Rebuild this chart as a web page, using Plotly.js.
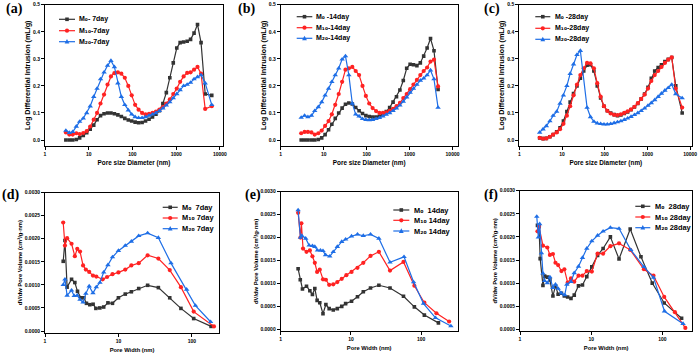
<!DOCTYPE html>
<html><head><meta charset="utf-8">
<script src="https://cdn.plot.ly/plotly-3.0.1.min.js"></script>
<style>html,body{margin:0;padding:0;background:#fff;}#chart{width:700px;height:355px;}</style>
</head><body><div id="chart"></div>
<script>
// ---------- MIP data (top row): pore size diameter (nm) vs log differential intrusion (mL/g)
var diamAC = [3.0, 3.6, 4.3, 5.2, 6.2, 7.5, 9.0, 10.8, 13.0, 15.5, 18.6, 22.4, 26.9, 32.2, 38.6, 46.4, 55.7, 66.8, 80.2, 96, 115, 138, 166, 199, 239, 287, 344, 413, 496, 595, 714, 857, 1030, 1230, 1480, 1780, 2130, 2560, 3070, 3700, 4600, 6500];
var diamB  = [3.0, 3.6, 4.3, 5.2, 6.2, 7.5, 9.0, 10.8, 13.0, 15.5, 18.6, 22.4, 26.9, 32.2, 38.6, 46.4, 55.7, 66.8, 80.2, 96, 115, 138, 166, 199, 239, 287, 344, 413, 496, 595, 714, 857, 1030, 1230, 1480, 1780, 2130, 2560, 3070, 3700, 4600];

var a_M0  = [0.000, 0.000, 0.000, 0.002, 0.008, 0.017, 0.027, 0.040, 0.055, 0.075, 0.090, 0.097, 0.100, 0.100, 0.097, 0.093, 0.087, 0.080, 0.074, 0.070, 0.066, 0.064, 0.065, 0.070, 0.077, 0.085, 0.095, 0.108, 0.135, 0.175, 0.230, 0.285, 0.340, 0.360, 0.362, 0.365, 0.372, 0.395, 0.427, 0.360, 0.170, 0.165];
var a_M10 = [0.028, 0.020, 0.020, 0.025, 0.022, 0.026, 0.033, 0.050, 0.075, 0.100, 0.135, 0.168, 0.205, 0.235, 0.247, 0.250, 0.245, 0.230, 0.200, 0.165, 0.130, 0.112, 0.100, 0.095, 0.097, 0.100, 0.105, 0.112, 0.122, 0.135, 0.150, 0.170, 0.190, 0.215, 0.235, 0.248, 0.250, 0.260, 0.270, 0.245, 0.115, 0.125];
var a_M20 = [0.035, 0.027, 0.030, 0.050, 0.068, 0.080, 0.100, 0.125, 0.160, 0.190, 0.225, 0.250, 0.275, 0.293, 0.270, 0.210, 0.160, 0.130, 0.110, 0.095, 0.085, 0.082, 0.082, 0.085, 0.090, 0.095, 0.100, 0.108, 0.117, 0.128, 0.140, 0.155, 0.170, 0.185, 0.200, 0.205, 0.212, 0.225, 0.233, 0.240, 0.210, 0.130];

var b_M0  = [0.000, 0.000, 0.000, 0.000, 0.000, 0.002, 0.008, 0.020, 0.038, 0.058, 0.080, 0.100, 0.118, 0.132, 0.137, 0.133, 0.120, 0.108, 0.098, 0.090, 0.087, 0.085, 0.085, 0.088, 0.095, 0.105, 0.120, 0.140, 0.160, 0.185, 0.220, 0.265, 0.280, 0.278, 0.275, 0.285, 0.310, 0.340, 0.375, 0.330, 0.187];
var b_M10 = [0.025, 0.030, 0.030, 0.028, 0.020, 0.025, 0.035, 0.052, 0.070, 0.095, 0.130, 0.170, 0.215, 0.260, 0.265, 0.270, 0.255, 0.240, 0.200, 0.163, 0.135, 0.118, 0.107, 0.100, 0.100, 0.102, 0.108, 0.115, 0.125, 0.137, 0.155, 0.170, 0.188, 0.205, 0.222, 0.240, 0.255, 0.268, 0.290, 0.297, 0.198];
var b_M20 = [0.083, 0.090, 0.085, 0.090, 0.108, 0.122, 0.140, 0.165, 0.190, 0.215, 0.240, 0.265, 0.298, 0.310, 0.240, 0.135, 0.095, 0.088, 0.078, 0.075, 0.074, 0.075, 0.078, 0.082, 0.088, 0.094, 0.100, 0.108, 0.117, 0.128, 0.142, 0.158, 0.175, 0.190, 0.205, 0.220, 0.228, 0.240, 0.258, 0.225, 0.120];

var c_M0  = [0.008, 0.005, 0.006, 0.012, 0.020, 0.030, 0.045, 0.070, 0.105, 0.140, 0.172, 0.200, 0.228, 0.255, 0.276, 0.278, 0.255, 0.200, 0.155, 0.125, 0.108, 0.100, 0.094, 0.090, 0.093, 0.098, 0.104, 0.112, 0.122, 0.135, 0.152, 0.170, 0.195, 0.228, 0.255, 0.268, 0.278, 0.290, 0.298, 0.305, 0.200, 0.100];
var c_M10 = [0.008, 0.005, 0.006, 0.012, 0.020, 0.028, 0.040, 0.060, 0.090, 0.125, 0.165, 0.205, 0.240, 0.265, 0.285, 0.283, 0.265, 0.210, 0.160, 0.125, 0.108, 0.098, 0.093, 0.092, 0.095, 0.100, 0.106, 0.113, 0.123, 0.136, 0.152, 0.168, 0.190, 0.218, 0.240, 0.255, 0.270, 0.285, 0.297, 0.305, 0.190, 0.120];
var c_M20 = [0.028, 0.040, 0.052, 0.070, 0.090, 0.105, 0.135, 0.165, 0.200, 0.245, 0.280, 0.315, 0.330, null, 0.120, 0.085, 0.068, 0.062, 0.060, 0.058, 0.058, 0.060, 0.063, 0.066, 0.070, 0.075, 0.080, 0.086, 0.093, 0.100, 0.108, 0.117, 0.127, 0.137, 0.148, 0.160, 0.172, 0.183, 0.193, 0.205, 0.170, 0.155];

// ---------- BJH data (bottom row): pore width (nm) vs dV/dw pore volume
var d_M0x  = [1.77, 1.87, 2.0, 2.3, 2.55, 2.77, 3.08, 3.38, 3.67, 4.08, 4.52, 4.93, 5.58, 6.3, 7.2, 8.3, 10, 12.4, 15, 18.9, 25, 35, 50, 71, 106, 183];
var d_M0y  = [0.00151, 0.00196, 0.00095, 0.00112, 0.00105, 0.00086, 0.00072, 0.00072, 0.0006, 0.00057, 0.00058, 0.00049, 0.0005, 0.00052, 0.00061, 0.0006, 0.00072, 0.0008, 0.00085, 0.00092, 0.00099, 0.00094, 0.00072, 0.00049, 0.00027, 0.0001];
var d_M10x = [1.77, 1.87, 2.0, 2.3, 2.55, 2.75, 3.0, 3.3, 3.6, 4.0, 4.5, 5.0, 6.1, 7.0, 8.3, 10, 12.4, 15, 18.9, 25, 35, 50, 71, 106, 200];
var d_M10y = [0.00235, 0.00185, 0.00201, 0.00189, 0.00162, 0.00178, 0.00172, 0.00142, 0.00133, 0.00128, 0.0012, 0.00118, 0.00112, 0.00117, 0.00123, 0.00127, 0.00133, 0.00142, 0.00147, 0.00164, 0.00157, 0.00132, 0.00095, 0.00042, 0.0001];
var d_M20x = [1.77, 1.87, 2.0, 2.3, 2.5, 2.75, 3.0, 3.3, 3.6, 4.0, 4.5, 5.0, 5.6, 6.3, 7.2, 8.3, 10, 12.4, 15, 18.9, 25, 35, 52, 85, 112, 180];
var d_M20y = [0.001, 0.00112, 0.00077, 0.00088, 0.00076, 0.00077, 0.00068, 0.00062, 0.00081, 0.00097, 0.00082, 0.00095, 0.00105, 0.00127, 0.00143, 0.0016, 0.00174, 0.00185, 0.00194, 0.00206, 0.00212, 0.00202, 0.00147, 0.0009, 0.00055, 0.0002];

var e_M0x  = [1.77, 1.9, 2.04, 2.33, 2.6, 2.83, 3.06, 3.3, 3.6, 4.0, 4.4, 4.9, 5.6, 6.4, 7.4, 8.4, 10.2, 12.4, 15, 19, 25, 36, 56, 80, 111, 176];
var e_M0y  = [0.00132, 0.00108, 0.00088, 0.00094, 0.00084, 0.00076, 0.00089, 0.00063, 0.00058, 0.00034, 0.00054, 0.00045, 0.00042, 0.00045, 0.0005, 0.00056, 0.00061, 0.00071, 0.00082, 0.0009, 0.00096, 0.0009, 0.00072, 0.00049, 0.00031, 0.00014];
var e_M10x = [1.77, 1.91, 1.97, 2.08, 2.33, 2.6, 2.83, 3.06, 3.3, 3.6, 4.0, 4.4, 4.9, 5.6, 6.4, 7.4, 8.6, 10.2, 12.4, 15, 19, 25, 36, 56, 80, 111, 165, 250];
var e_M10y = [0.00254, 0.002, 0.00231, 0.00176, 0.00169, 0.00172, 0.00159, 0.00145, 0.00125, 0.0013, 0.00109, 0.00108, 0.00097, 0.00098, 0.00103, 0.0011, 0.00118, 0.00125, 0.00134, 0.00145, 0.0016, 0.00169, 0.00128, 0.00147, 0.00095, 0.00058, 0.00035, 0.00017];
var e_M20x = [1.77, 1.91, 2.0, 2.27, 2.54, 2.83, 3.06, 3.34, 3.68, 4.0, 4.35, 5.0, 5.6, 6.4, 7.4, 8.4, 10.2, 12.4, 15, 19, 25, 36, 57, 78, 108, 160, 265];
var e_M20y = [0.0026, 0.002, 0.00204, 0.00198, 0.00183, 0.00182, 0.0018, 0.00172, 0.00172, 0.00171, 0.00162, 0.00159, 0.00169, 0.0018, 0.00191, 0.00196, 0.00203, 0.00207, 0.00204, 0.00207, 0.00198, 0.00146, 0.00158, 0.00103, 0.00056, 0.00025, 0.00007];

var f_M0x  = [1.76, 1.85, 1.92, 2.1, 2.22, 2.42, 2.63, 2.9, 3.15, 3.43, 3.82, 4.2, 4.67, 5.2, 5.78, 6.63, 7.54, 8.67, 10.2, 12.3, 14.7, 18.6, 24.6, 35.3, 50, 72, 106, 186];
var f_M0y  = [0.00225, 0.00222, 0.00153, 0.00095, 0.00115, 0.00113, 0.00107, 0.00072, 0.00094, 0.00076, 0.00078, 0.00072, 0.0007, 0.00067, 0.00074, 0.00094, 0.00096, 0.00114, 0.00135, 0.0016, 0.00175, 0.002, 0.00152, 0.00217, 0.00157, 0.001, 0.00057, 0.00024];
var f_M10x = [1.76, 1.85, 2.1, 2.42, 2.63, 2.9, 3.15, 3.43, 3.82, 4.2, 4.67, 5.2, 5.78, 6.63, 7.54, 8.67, 10.2, 12.3, 14.7, 18.6, 24.6, 35.3, 55, 75, 106, 150, 210];
var f_M10y = [0.00212, 0.00222, 0.00181, 0.00177, 0.00161, 0.00163, 0.00144, 0.00139, 0.00126, 0.0013, 0.00101, 0.0011, 0.00103, 0.00116, 0.00116, 0.00126, 0.00125, 0.00164, 0.00164, 0.0018, 0.00186, 0.00172, 0.0013, 0.00116, 0.0007, 0.00037, 0.00003];
var f_M20x = [1.72, 1.81, 1.89, 2.0, 2.1, 2.22, 2.42, 2.63, 2.9, 3.15, 3.43, 3.82, 4.25, 4.55, 5.2, 5.78, 6.63, 7.54, 8.67, 10.2, 12.3, 14.7, 18.6, 24.6, 36, 55, 75, 107, 195];
var f_M20y = [0.00244, 0.00199, 0.00228, 0.00165, 0.00121, 0.00105, 0.001, 0.00113, 0.0009, 0.00097, 0.00088, 0.00078, 0.00074, 0.00097, 0.00103, 0.00122, 0.00136, 0.00155, 0.00175, 0.00191, 0.00203, 0.00212, 0.0022, 0.00218, 0.00172, 0.00135, 0.00112, 0.00039, 0.00012];

// ---------- labels
var panelLetters = ['(a)', '(b)', '(c)', '(d)', '(e)', '(f)'];
var legendA = ['M\u2080- 7day', 'M\u2081\u2080-7day', 'M\u2082\u2080-7day'];
var legendB = ['M\u2080 -14day', 'M\u2081\u2080-14day', 'M\u2082\u2080-14day'];
var legendC = ['M\u2080 -28day', 'M\u2081\u2080-28day', 'M\u2082\u2080-28day'];
var legendD = ['M\u2080  7day', 'M\u2081\u2080 7day', 'M\u2082\u2080 7day'];
var legendE = ['M\u2080  14day', 'M\u2081\u2080 14day', 'M\u2082\u2080 14day'];
var legendF = ['M\u2080  28day', 'M\u2081\u2080 28day', 'M\u2082\u2080 28day'];
var topXTickVals = [1, 10, 100, 1000, 10000];
var topXTickText = ['1', '10', '100', '1000', '10000'];
var topYTickVals = [0, 0.1, 0.2, 0.3, 0.4, 0.5];
var topYTickText = ['0.0', '0.1', '0.2', '0.3', '0.4', '0.5'];
var botXTickVals = [1, 10, 100];
var botXTickText = ['1', '10', '100'];
var botYTickVals = [0, 0.0005, 0.001, 0.0015, 0.002, 0.0025, 0.003];
var botYTickText = ['0.0000', '0.0005', '0.0010', '0.0015', '0.0020', '0.0025', '0.0030'];
var topXTitle = 'Pore size Diameter (nm)';
var topYTitle = 'Log Differential Intrusion (mL/g)';
var botXTitle = 'Pore Width (nm)';
var botYTitle = 'dV/dw Pore Volume (cm\u00b3/g\u00b7nm)';

// ---------- styles
var W = 700, H = 355;
var colors = ['#333333', '#ff2222', '#1e6ee6'];
var symbols = ['square', 'circle', 'triangle-up'];
var msizes = [3.6, 4.2, 4.8];
var FONT = 'Liberation Sans, Arial, DejaVu Sans, sans-serif';
function fx(p) { return p / W; }
function fy(p) { return 1 - p / H; }
// draw subscript digits with a font whose subscript glyphs are legible
function subFont(s) {
  return s.replace(/([\u2080-\u2089]+)/g, '<span style="font-family:\'DejaVu Sans\'">$1</span>');
}

var panels = [
  {x: [45, 223], y: [4.7, 145.7], xr: [0, 4.07], yr: [-0.021, 0.5], top: true,
   series: [[diamAC, a_M0], [diamAC, a_M10], [diamAC, a_M20]], legend: legendA,
   leg: {x0: 59, x1: 75, tx: 77, rows: [19.3, 30.7, 41.7]}, letter: [14.7, 9]},
  {x: [280.7, 457.7], y: [4.7, 145.7], xr: [0, 4.12], yr: [-0.021, 0.5], top: true,
   series: [[diamB, b_M0], [diamB, b_M10], [diamB, b_M20]], legend: legendB,
   leg: {x0: 296.7, x1: 312.3, tx: 314.3, rows: [16.7, 27.7, 38.3]}, letter: [246.7, 9]},
  {x: [519.3, 692.3], y: [4.7, 145.7], xr: [0, 4.05], yr: [-0.021, 0.5], top: true,
   series: [[diamAC, c_M0], [diamAC, c_M10], [diamAC, c_M20]], legend: legendC,
   leg: {x0: 535.3, x1: 550.3, tx: 552.7, rows: [16.7, 28.3, 39.3]}, letter: [492, 9]},
  {x: [45, 219], y: [192.5, 333], xr: [0, 2.37], yr: [-0.000043, 0.003], top: false,
   series: [[d_M0x, d_M0y], [d_M10x, d_M10y], [d_M20x, d_M20y]], legend: legendD,
   leg: {x0: 162.7, x1: 177.7, tx: 180, rows: [207.3, 218, 228.7]}, letter: [10.7, 195]},
  {x: [280.7, 457.7], y: [191.7, 331], xr: [0, 2.52], yr: [-0.000037, 0.003], top: false,
   series: [[e_M0x, e_M0y], [e_M10x, e_M10y], [e_M20x, e_M20y]], legend: legendE,
   leg: {x0: 393.3, x1: 409.3, tx: 411.7, rows: [210, 220.3, 231]}, letter: [252.7, 195]},
  {x: [520, 692.3], y: [190.7, 331], xr: [0, 2.42], yr: [-0.000037, 0.003], top: false,
   series: [[f_M0x, f_M0y], [f_M10x, f_M10y], [f_M20x, f_M20y]], legend: legendF,
   leg: {x0: 635.3, x1: 650.3, tx: 652.7, rows: [206.3, 217, 227.7]}, letter: [491, 195]}
];

var traces = [];
var layout = {
  width: W, height: H,
  margin: {l: 0, r: 0, t: 0, b: 0},
  paper_bgcolor: '#ffffff', plot_bgcolor: '#ffffff',
  showlegend: false,
  font: {family: FONT, color: '#000', weight: 'bold'},
  annotations: [], shapes: []
};

panels.forEach(function (p, i) {
  var n = i + 1;
  var xa = 'x' + (n === 1 ? '' : n), ya = 'y' + (n === 1 ? '' : n);
  p.series.forEach(function (s, k) {
    traces.push({
      type: 'scatter', mode: 'lines+markers',
      x: s[0], y: s[1], xaxis: xa, yaxis: ya,
      connectgaps: true, cliponaxis: true,
      name: p.legend[k],
      line: {color: colors[k], width: 1.2},
      marker: {symbol: symbols[k], size: msizes[k], color: colors[k], line: {width: 0}}
    });
  });
  var common = {
    showline: true, mirror: true, linecolor: '#000', linewidth: 1,
    ticks: 'outside', ticklen: 3, tickwidth: 1, tickcolor: '#000',
    showgrid: false, zeroline: false, automargin: false,
    tickfont: {family: FONT, size: 5, weight: 'bold', color: '#000'}
  };
  var xk = 'xaxis' + (n === 1 ? '' : n), yk = 'yaxis' + (n === 1 ? '' : n);
  layout[xk] = Object.assign({}, common, {
    domain: [fx(p.x[0]), fx(p.x[1])], anchor: ya, type: 'log', range: p.xr,
    tickmode: 'array',
    tickvals: p.top ? topXTickVals : botXTickVals,
    ticktext: p.top ? topXTickText : botXTickText,
    title: {text: p.top ? topXTitle : botXTitle, standoff: 4,
            font: {family: FONT, size: p.top ? 6.4 : 5.8, weight: 'bold', color: '#000'}}
  });
  layout[yk] = Object.assign({}, common, {
    domain: [fy(p.y[1]), fy(p.y[0])], anchor: xa, range: p.yr,
    tickmode: 'array',
    tickvals: p.top ? topYTickVals : botYTickVals,
    ticktext: p.top ? topYTickText : botYTickText,
    title: {text: p.top ? topYTitle : botYTitle, standoff: 1,
            font: {family: FONT, size: p.top ? 7.2 : 5.8, weight: 'bold', color: '#000'}}
  });
  layout.annotations.push({
    text: panelLetters[i], xref: 'paper', yref: 'paper',
    x: fx(p.letter[0]), y: fy(p.letter[1]), xanchor: 'center', yanchor: 'middle',
    showarrow: false, font: {family: 'Liberation Serif, Times New Roman, serif', size: 14, weight: 'bold', color: '#000'}
  });
  p.leg.rows.forEach(function (ry, k) {
    layout.shapes.push({type: 'line', xref: 'paper', yref: 'paper',
      x0: fx(p.leg.x0), x1: fx(p.leg.x1), y0: fy(ry), y1: fy(ry),
      line: {color: colors[k], width: 1.2}});
    var cx = (p.leg.x0 + p.leg.x1) / 2, r = msizes[k] / 2;
    if (k === 0) {
      layout.shapes.push({type: 'rect', xref: 'paper', yref: 'paper',
        x0: fx(cx - r), x1: fx(cx + r), y0: fy(ry + r), y1: fy(ry - r),
        fillcolor: colors[k], line: {width: 0}});
    } else if (k === 1) {
      layout.shapes.push({type: 'circle', xref: 'paper', yref: 'paper',
        x0: fx(cx - r), x1: fx(cx + r), y0: fy(ry + r), y1: fy(ry - r),
        fillcolor: colors[k], line: {width: 0}});
    } else {
      var path = 'M' + fx(cx - r) + ',' + fy(ry + r * 0.8) + ' L' + fx(cx + r) + ',' + fy(ry + r * 0.8) +
                 ' L' + fx(cx) + ',' + fy(ry - r * 1.1) + ' Z';
      layout.shapes.push({type: 'path', xref: 'paper', yref: 'paper', path: path,
        fillcolor: colors[k], line: {width: 0}});
    }
    layout.annotations.push({
      text: subFont(p.legend[k]), xref: 'paper', yref: 'paper',
      x: fx(p.leg.tx), y: fy(ry), xanchor: 'left', yanchor: 'middle',
      showarrow: false, font: {family: FONT, size: p.top ? 7 : 7.4, weight: 'bold', color: '#000'}
    });
  });
});

Plotly.newPlot('chart', traces, layout, {staticPlot: true, displayModeBar: false});
</script></body></html>
